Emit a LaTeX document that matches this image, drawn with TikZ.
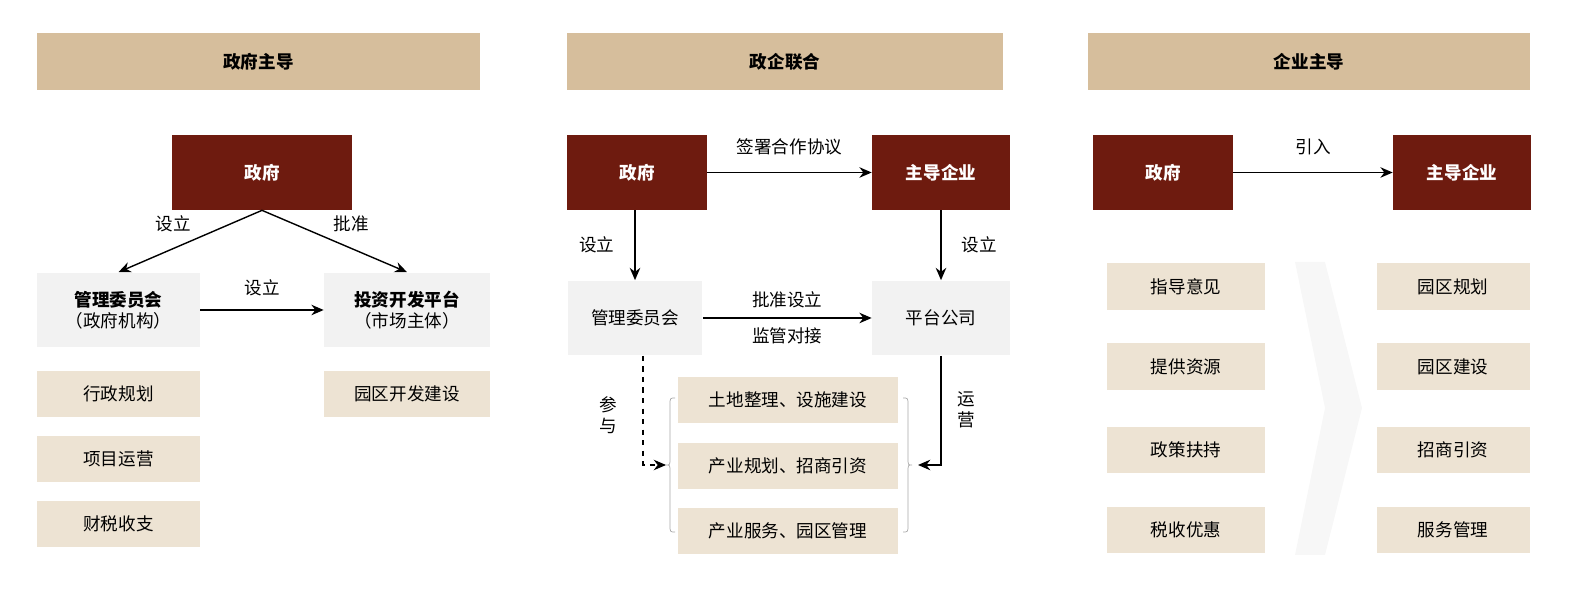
\documentclass[tikz,border=0pt]{standalone}
\usepackage{fontspec}
\setmainfont{Noto Sans CJK SC}
\usetikzlibrary{arrows.meta}
\definecolor{dred}{HTML}{6E1B0F}
\definecolor{tanc}{HTML}{EDE3D3}
\definecolor{hdr}{HTML}{D6BE9C}
\definecolor{lgray}{HTML}{F2F2F2}
\tikzset{
 hdrbox/.style={fill=hdr,minimum height=1.14cm,font=\bfseries\fontsize{10}{12}\selectfont},
 redbox/.style={fill=dred,text=white,minimum height=1.5cm,font=\bfseries\fontsize{10}{12}\selectfont},
 graybox/.style={fill=lgray,minimum height=1.5cm,font=\fontsize{10}{12}\selectfont,align=center},
 tanbox/.style={fill=tanc,minimum height=0.94cm,font=\fontsize{10}{12}\selectfont},
 lab/.style={font=\fontsize{10}{12}\selectfont},
 arr/.style={-{Stealth[length=7pt,width=6pt]},thick},
 brace/.style={gray!70},
}
\begin{document}
\begin{tikzpicture}[x=0.02cm,y=-0.02cm]
\useasboundingbox (0,0) rectangle (1588,590);
% headers
\node[hdrbox,minimum width=8.86cm] (h1) at (258.5,61.5) {政府主导};
\node[hdrbox,minimum width=8.72cm] (h2) at (785,61.5) {政企联合};
\node[hdrbox,minimum width=8.84cm] (h3) at (1309,61.5) {企业主导};
% panel 1
\node[redbox,minimum width=3.6cm] (g1) at (262,172.5) {政府};
\node[graybox,minimum width=3.26cm] (m1) at (118.5,310) {\textbf{管理委员会}\\（政府机构）};
\node[graybox,minimum width=3.32cm] (p1) at (407,310) {\textbf{投资开发平台}\\（市场主体）};
\node[tanbox,minimum width=3.26cm] (a1) at (118.5,394) {行政规划};
\node[tanbox,minimum width=3.26cm] (a2) at (118.5,459) {项目运营};
\node[tanbox,minimum width=3.26cm] (a3) at (118.5,524) {财税收支};
\node[tanbox,minimum width=3.32cm] (a4) at (407,394) {园区开发建设};
\draw[arr] (g1.south) -- (m1.north) node[lab,pos=0.45,above left] {设立};
\draw[arr] (g1.south) -- (p1.north) node[lab,pos=0.45,above right] {批准};
\draw[arr] (m1.east) -- (p1.west) node[lab,midway,above=4pt] {设立};
% panel 2
\node[redbox,minimum width=2.8cm] (g2) at (637,172.5) {政府};
\node[redbox,minimum width=2.76cm] (e2) at (941,172.5) {主导企业};
\node[graybox,minimum width=2.7cm] (m2) at (635,318) {管理委员会};
\node[graybox,minimum width=2.76cm] (p2) at (941,318) {平台公司};
\node[tanbox,minimum width=4.4cm] (b1) at (788,400) {土地整理、设施建设};
\node[tanbox,minimum width=4.4cm] (b2) at (788,466) {产业规划、招商引资};
\node[tanbox,minimum width=4.4cm] (b3) at (788,531) {产业服务、园区管理};
\draw[arr] (g2.east) -- (e2.west) node[lab,midway,above=6pt] {签署合作协议};
\draw[arr] (g2.south -| m2.north) -- (m2.north) node[lab,midway,left=8pt] {设立};
\draw[arr] (e2.south) -- (p2.north) node[lab,midway,right=8pt] {设立};
\draw[arr] (m2.east) -- (p2.west) node[lab,midway,above=2pt] {批准设立} node[lab,midway,below=2pt] {监管对接};
\coordinate (lb) at (666,465);
\coordinate (rb) at (918,465);
\draw[brace] (675,398) .. controls (670,398) .. (670,405) -- (670,458) .. controls (670,465) .. (666,465) .. controls (670,465) .. (670,472) -- (670,525) .. controls (670,532) .. (675,532);
\draw[brace] (903,398) .. controls (908,398) .. (908,405) -- (908,458) .. controls (908,465) .. (912,465) .. controls (908,465) .. (908,472) -- (908,525) .. controls (908,532) .. (903,532);
\draw[arr,dashed] (m2.south -| 643,0) |- (lb);
\node[lab,align=center] (cy) at (608,415) {参\\与};
\draw[arr] (p2.south) |- (rb);
\node[lab,align=center] (yy) at (966,410) {运\\营};
% panel 3
\node[redbox,minimum width=2.8cm] (g3) at (1163,172.5) {政府};
\node[redbox,minimum width=2.76cm] (e3) at (1462,172.5) {主导企业};
\draw[arr] (g3.east) -- (e3.west) node[lab,midway,above=6pt] {引入};
\fill[gray!6] (1295,262) -- (1325,262) -- (1362,408) -- (1325,555) -- (1295,555) -- (1325,408) -- cycle;
\foreach \t/\y [count=\i] in {指导意见/286.5,提供资源/366.5,政策扶持/450,税收优惠/530}
  \node[tanbox,minimum width=3.16cm] (l\i) at (1186,\y) {\t};
\foreach \t/\y [count=\i] in {园区规划/286.5,园区建设/366.5,招商引资/450,服务管理/530}
  \node[tanbox,minimum width=3.06cm] (r\i) at (1453,\y) {\t};
\end{tikzpicture}
\end{document}
